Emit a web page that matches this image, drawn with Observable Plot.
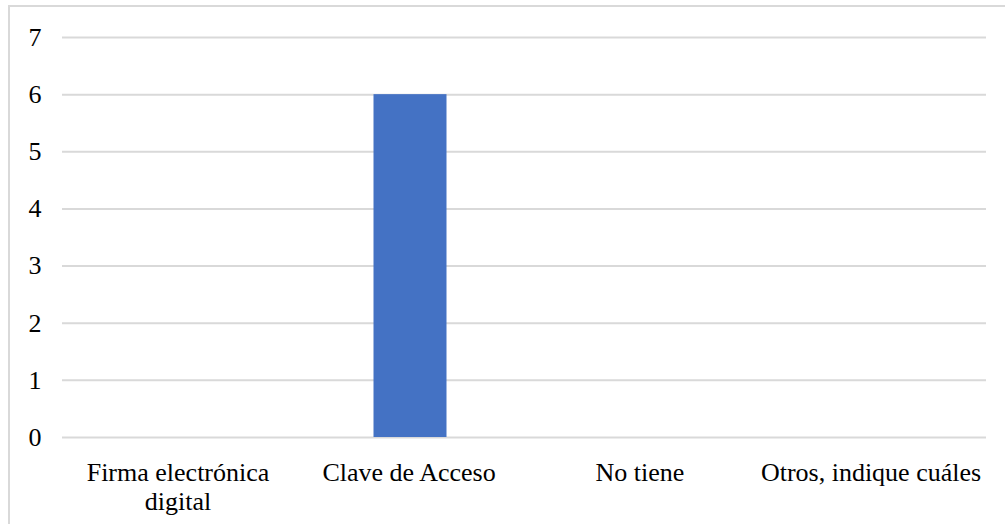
<!DOCTYPE html>
<html>
<head>
<meta charset="utf-8">
<script src="https://cdn.jsdelivr.net/npm/d3@7"></script>
<script src="https://cdn.jsdelivr.net/npm/@observablehq/plot@0.6"></script>
<style>
  html, body { margin: 0; padding: 0; background: #fff; }
  #wrap { position: relative; width: 1005px; height: 524px; overflow: hidden; }
  #frame { position: absolute; left: 8px; top: 5px; width: 1100px; height: 600px; border-left: 2px solid #d9d9d9; border-top: 2px solid #d9d9d9; box-sizing: border-box; }
  #chart { position: absolute; left: 0; top: 0; }
</style>
</head>
<body>
<div id="wrap"><div id="frame"></div><div id="chart"></div></div>
<script>
const categories = ["Firma electrónica digital", "Clave de Acceso", "No tiene", "Otros, indique cuáles"];
const categoryLabels = ["Firma electrónica\ndigital", "Clave de Acceso", "No tiene", "Otros, indique cuáles"];
const values = [0, 6, 0, 0];
const yTicks = [0, 1, 2, 3, 4, 5, 6, 7];

const data = categories.map((c, i) => ({category: c, value: values[i]}));
const labelOf = new Map(categories.map((c, i) => [c, categoryLabels[i]]));

const chart = Plot.plot({
  width: 1005,
  height: 524,
  marginLeft: 62,
  marginRight: 19,
  marginTop: 37,
  marginBottom: 87,
  style: {fontFamily: "'Liberation Serif', 'Times New Roman', serif", fontSize: "26px", color: "#000", background: "transparent"},
  x: {domain: categories, paddingInner: 0.684, paddingOuter: 0.342, label: null},
  y: {domain: [0, 7], label: null},
  marks: [
    Plot.ruleY(yTicks, {stroke: "#d9d9d9", strokeWidth: 2}),
    Plot.barY(data, {x: "category", y: "value", fill: "#4472c4", dx: 1.5}),
    Plot.axisY({ticks: yTicks, tickSize: 0, tickPadding: 21, fontSize: 26, fill: "#000", label: null, tickFormat: d => String(d)}),
    Plot.axisX({tickSize: 0, tickPadding: 24, fontSize: 26, fill: "#000", label: null, lineHeight: 1.08, tickFormat: d => labelOf.get(d)})
  ]
});
document.getElementById("chart").appendChild(chart);
</script>
</body>
</html>
